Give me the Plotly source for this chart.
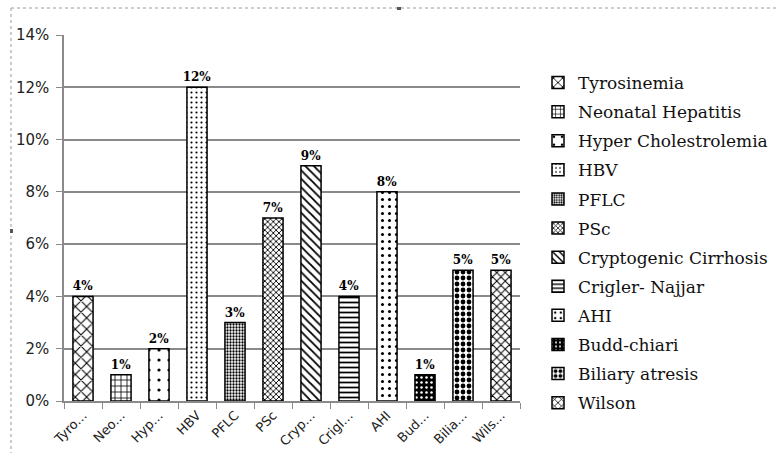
import plotly.graph_objects as go

# Diagnosis categories and their share of cases
categories = ["Tyrosinemia", "Neonatal Hepatitis", "Hyper Cholestrolemia", "HBV", "PFLC",
              "PSc", "Cryptogenic Cirrhosis", "Crigler- Najjar", "AHI", "Budd-chiari",
              "Biliary atresis", "Wilson"]
short_labels = ["Tyro...", "Neo...", "Hyp...", "HBV", "PFLC", "PSc", "Cryp...",
                "Crigl...", "AHI", "Bud...", "Bilia...", "Wils..."]
shares = [0.04, 0.01, 0.02, 0.12, 0.03, 0.07, 0.09, 0.04, 0.08, 0.01, 0.05, 0.05]
y_ticks = [0, 0.02, 0.04, 0.06, 0.08, 0.10, 0.12, 0.14]

# Fill pattern per bar: (shape, size, solidity, foreground, background)
patterns = [
    ("x", 8, 0.25, "black", "white"),
    ("+", 6, 0.25, "black", "white"),
    (".", 10, 0.08, "black", "white"),
    (".", 5, 0.15, "black", "white"),
    (".", 3, 0.45, "black", "white"),
    ("x", 4, 0.4, "black", "white"),
    ("\\", 6, 0.3, "black", "white"),
    ("-", 5, 0.35, "black", "white"),
    (".", 7, 0.15, "black", "white"),
    (".", 5, 0.2, "white", "black"),
    (".", 6, 0.5, "black", "white"),
    ("x", 6, 0.3, "black", "white"),
]

fig = go.Figure()
for i, (cat, val) in enumerate(zip(categories, shares)):
    shape, size, solid, fg, bg = patterns[i]
    fig.add_trace(go.Bar(
        x=[cat], y=[val], name=cat, legendgroup=cat,
        width=0.53,
        marker=dict(color=bg, line=dict(color="black", width=1.5),
                    pattern=dict(shape=shape, size=size, solidity=solid,
                                 fgcolor=fg, bgcolor=bg, fillmode="replace")),
        text=[f"{val:.0%}"], textposition="outside", cliponaxis=False,
        constraintext="none",
        textfont=dict(family="DejaVu Serif", size=12, color="black", weight="bold"),
    ))

L, T, W, H = 64, 35, 456, 366


def px(x):
    return (x - L) / W


def py(y):
    return (T + H - y) / H


grid = "#8a8a8a"
fig.update_layout(
    width=778, height=453, autosize=False,
    margin=dict(l=L, r=778 - L - W, t=T, b=453 - T - H, autoexpand=False),
    paper_bgcolor="white", plot_bgcolor="white",
    barmode="overlay",
    showlegend=True,
    legend=dict(x=px(538), y=py(65), xanchor="left", yanchor="top",
                traceorder="grouped", tracegroupgap=4, maxheight=440,
                font=dict(family="DejaVu Serif", size=17, color="#111"),
                itemwidth=30, bgcolor="rgba(0,0,0,0)"),
    xaxis=dict(categoryorder="array", categoryarray=categories,
               tickmode="array", tickvals=categories, ticktext=short_labels,
               tickangle=-45, tickson="boundaries", ticks="outside", ticklen=6,
               tickcolor=grid, showline=True, linecolor=grid, linewidth=1.5,
               showgrid=False,
               tickfont=dict(family="DejaVu Sans", size=13, color="#222")),
    yaxis=dict(range=[0, 0.14], tickvals=y_ticks, tickformat=".0%",
               ticks="outside", ticklen=6, tickcolor=grid, ticklabelstandoff=4,
               showline=True, linecolor=grid, linewidth=1.5,
               showgrid=True, gridcolor=grid, gridwidth=1.5, zeroline=False,
               tickfont=dict(family="DejaVu Sans", size=15, color="#222")),
)

# Dotted frame around the chart and its small handles
frame = dict(color="#9a9a9a", width=1, dash="dot")
fig.add_shape(type="line", xref="paper", yref="paper",
              x0=px(11), x1=px(778), y0=py(8), y1=py(8), line=frame)
fig.add_shape(type="line", xref="paper", yref="paper",
              x0=px(11), x1=px(11), y0=py(8), y1=py(453), line=frame)
fig.add_shape(type="rect", xref="paper", yref="paper",
              x0=px(397), x1=px(401), y0=py(7), y1=py(10),
              fillcolor="#555", line=dict(width=0))
fig.add_shape(type="rect", xref="paper", yref="paper",
              x0=px(10), x1=px(13), y0=py(229), y1=py(233),
              fillcolor="#555", line=dict(width=0))

fig.write_html("out.html")
